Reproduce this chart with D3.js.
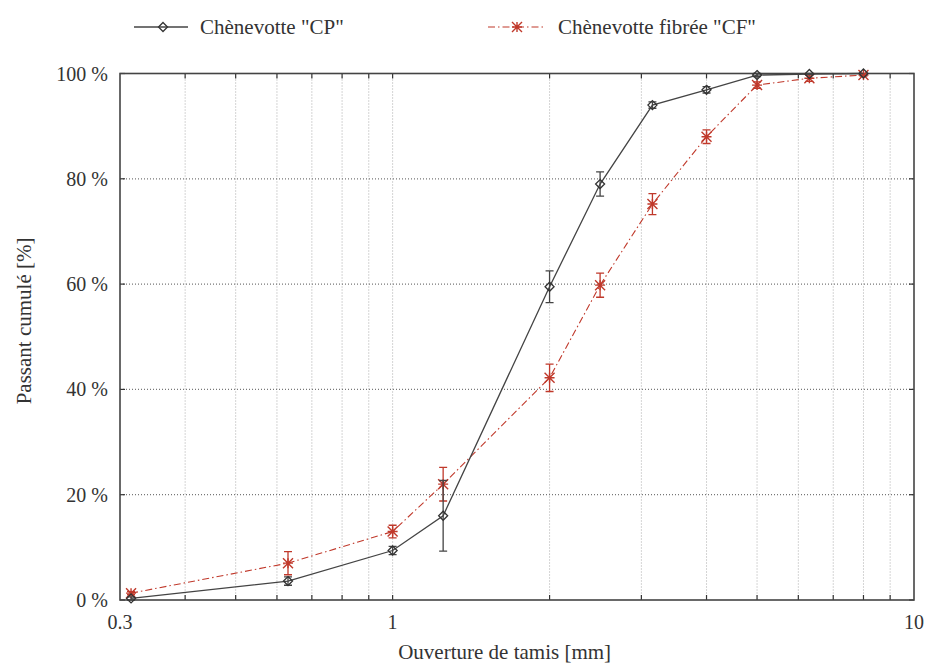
<!DOCTYPE html>
<html>
<head>
<meta charset="utf-8">
<script src="https://cdn.jsdelivr.net/npm/d3@7"></script>
<style>
    body { margin: 0; background: #fff; }
    text { font-family: "Liberation Serif", "DejaVu Serif", serif; fill: #333; }
</style>
</head>
<body>
<svg id="chart" width="930" height="664"></svg>
<script>
// Sieve openings [mm]
var openings = [0.315, 0.63, 1, 1.25, 2, 2.5, 3.15, 4, 5, 6.3, 8];

// Chènevotte "CP"
var cpValues = [0.3, 3.6, 9.4, 16, 59.5, 79, 94, 96.9, 99.7, 99.9, 100];
var cpErrors = [0.3, 0.8, 0.8, 6.7, 3, 2.3, 0.6, 0.6, 0.3, 0.1, 0];

// Chènevotte fibrée "CF"
var cfValues = [1.3, 7, 13, 22, 42.2, 59.8, 75.2, 88, 97.8, 99.1, 99.7];
var cfErrors = [0.3, 2.2, 1.2, 3.2, 2.6, 2.3, 2, 1.3, 0.6, 0.6, 0.2];

var yTicks = [0, 20, 40, 60, 80, 100];
var xLabels = [0.3, 1, 10];
var xGrid = [0.4, 0.5, 0.6, 0.7, 0.8, 0.9, 1, 2, 3, 4, 5, 6, 7, 8, 9];

var seriesNames = ['Chènevotte "CP"', 'Chènevotte fibrée "CF"'];

var margin = {top: 73.5, right: 16, bottom: 64, left: 120};
var width = 930 - margin.left - margin.right;
var height = 664 - margin.top - margin.bottom;

var svg = d3.select('#chart');

var g = svg.append('g')
    .attr('transform', 'translate(' + margin.left + ',' + margin.top + ')');

var x = d3.scaleLog()
    .domain([0.3, 10])
    .range([0, width]);

var y = d3.scaleLinear()
    .domain([0, 100])
    .range([height, 0]);

// Vertical grid (dotted)
g.append('g')
    .selectAll('line')
    .data(xGrid)
    .enter()
    .append('line')
    .attr('x1', function(d) { return x(d); })
    .attr('x2', function(d) { return x(d); })
    .attr('y1', 0)
    .attr('y2', height)
    .attr('stroke', '#aaa')
    .attr('stroke-width', 1)
    .attr('stroke-dasharray', '1,2');

// Horizontal grid
g.append('g')
    .selectAll('line')
    .data(yTicks.slice(1, -1))
    .enter()
    .append('line')
    .attr('x1', 0)
    .attr('x2', width)
    .attr('y1', function(d) { return y(d); })
    .attr('y2', function(d) { return y(d); })
    .attr('stroke', '#777')
    .attr('stroke-width', 1.2)
    .attr('stroke-dasharray', '1,2');

// Ticks on all four sides, pointing inward
var tickLen = 5;
var tickLines = g.append('g');
xGrid.forEach(function(d) {
    tickLines.append('line')
        .attr('x1', x(d)).attr('x2', x(d))
        .attr('y1', height).attr('y2', height - tickLen);
    tickLines.append('line')
        .attr('x1', x(d)).attr('x2', x(d))
        .attr('y1', 0).attr('y2', tickLen);
});
yTicks.forEach(function(d) {
    tickLines.append('line')
        .attr('x1', 0).attr('x2', tickLen)
        .attr('y1', y(d)).attr('y2', y(d));
    tickLines.append('line')
        .attr('x1', width).attr('x2', width - tickLen)
        .attr('y1', y(d)).attr('y2', y(d));
});
tickLines.selectAll('line')
    .attr('stroke', '#333')
    .attr('stroke-width', 1.2);

// Frame
g.append('rect')
    .attr('width', width)
    .attr('height', height)
    .attr('fill', 'none')
    .attr('stroke', '#444')
    .attr('stroke-width', 1.6);

// Tick labels
g.append('g')
    .selectAll('text')
    .data(yTicks)
    .enter()
    .append('text')
    .attr('x', -12)
    .attr('y', function(d) { return y(d); })
    .attr('dy', '0.35em')
    .attr('text-anchor', 'end')
    .style('font-size', '20px')
    .text(function(d) { return d + ' %'; });

g.append('g')
    .selectAll('text')
    .data(xLabels)
    .enter()
    .append('text')
    .attr('x', function(d) { return x(d); })
    .attr('y', height + 29)
    .attr('text-anchor', 'middle')
    .style('font-size', '20px')
    .text(function(d) { return d; });

// Axis titles
svg.append('text')
    .attr('x', margin.left + x(1.64))
    .attr('y', 659)
    .attr('text-anchor', 'middle')
    .style('font-size', '21px')
    .text('Ouverture de tamis [mm]');

svg.append('text')
    .attr('transform', 'translate(31,' + (margin.top + y(53)) + ') rotate(-90)')
    .attr('text-anchor', 'middle')
    .style('font-size', '21px')
    .text('Passant cumulé [%]');

// Markers
function diamond(sel, cx, cy) {
    var s = 4.5;
    sel.append('path')
        .attr('d', 'M' + cx + ',' + (cy - s) + 'L' + (cx + s) + ',' + cy +
            'L' + cx + ',' + (cy + s) + 'L' + (cx - s) + ',' + cy + 'Z')
        .attr('fill', 'none')
        .attr('stroke', '#333')
        .attr('stroke-width', 1.3);
}

function star(sel, cx, cy) {
    var s = 5;
    var d = 'M' + (cx - s) + ',' + cy + 'L' + (cx + s) + ',' + cy +
        'M' + cx + ',' + (cy - s) + 'L' + cx + ',' + (cy + s) +
        'M' + (cx - s) + ',' + (cy - s) + 'L' + (cx + s) + ',' + (cy + s) +
        'M' + (cx - s) + ',' + (cy + s) + 'L' + (cx + s) + ',' + (cy - s);
    sel.append('path')
        .attr('d', d)
        .attr('fill', 'none')
        .attr('stroke', '#c0392b')
        .attr('stroke-width', 1.4);
}

var line = d3.line()
    .x(function(d) { return x(d[0]); })
    .y(function(d) { return y(d[1]); });

function drawSeries(values, errors, color, dash, strokeWidth, marker) {
    var pts = openings.map(function(o, i) { return [o, values[i], errors[i]]; });
    var s = g.append('g');

    s.append('path')
        .datum(pts)
        .attr('d', line)
        .attr('fill', 'none')
        .attr('stroke', color)
        .attr('stroke-width', strokeWidth)
        .attr('stroke-dasharray', dash);

    // Error bars with caps
    pts.forEach(function(p) {
        if (p[2] <= 0) {
            return;
        }
        var cx = x(p[0]);
        var top = y(p[1] + p[2]);
        var bot = y(p[1] - p[2]);
        var d = 'M' + cx + ',' + top + 'L' + cx + ',' + bot +
            'M' + (cx - 4) + ',' + top + 'L' + (cx + 4) + ',' + top +
            'M' + (cx - 4) + ',' + bot + 'L' + (cx + 4) + ',' + bot;
        s.append('path')
            .attr('d', d)
            .attr('fill', 'none')
            .attr('stroke', color)
            .attr('stroke-width', 1.3);
    });

    pts.forEach(function(p) {
        marker(s, x(p[0]), y(p[1]));
    });
}

drawSeries(cfValues, cfErrors, '#c0392b', '7,3,1.5,3', 1.1, star);
drawSeries(cpValues, cpErrors, '#444', null, 1.3, diamond);

// Legend
var legend = svg.append('g');
var legendY = 27;

legend.append('line')
    .attr('x1', 134).attr('x2', 188)
    .attr('y1', legendY).attr('y2', legendY)
    .attr('stroke', '#444')
    .attr('stroke-width', 1.3);
diamond(legend, 163, legendY);
legend.append('text')
    .attr('x', 200)
    .attr('y', legendY)
    .attr('dy', '0.35em')
    .style('font-size', '21px')
    .text(seriesNames[0]);

legend.append('line')
    .attr('x1', 488).attr('x2', 546)
    .attr('y1', legendY).attr('y2', legendY)
    .attr('stroke', '#c0392b')
    .attr('stroke-width', 1.1)
    .attr('stroke-dasharray', '7,3,1.5,3');
star(legend, 517, legendY);
legend.append('text')
    .attr('x', 558)
    .attr('y', legendY)
    .attr('dy', '0.35em')
    .style('font-size', '21px')
    .text(seriesNames[1]);
</script>
</body>
</html>
